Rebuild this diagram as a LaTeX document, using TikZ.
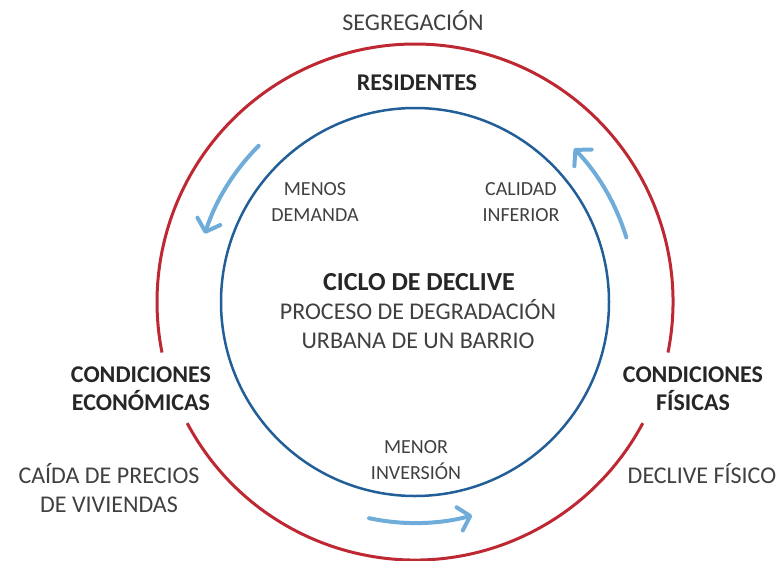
\documentclass[tikz,border=0pt]{standalone}
\usepackage{fontspec}
\setmainfont{Carlito}
\usetikzlibrary{arrows.meta}
\definecolor{ringred}{RGB}{190,40,50}
\definecolor{ringblue}{RGB}{34,94,152}
\definecolor{cycblue}{RGB}{112,172,218}
\definecolor{txtdark}{RGB}{38,38,38}
\definecolor{txtreg}{RGB}{64,64,64}
\begin{document}
\begin{tikzpicture}[x=1pt,y=1pt,
  redring/.style={draw=ringred,line width=3pt},
  bluering/.style={draw=ringblue,line width=2.5pt},
  cyc/.style={draw=cycblue,line width=4pt,line cap=round,-{Straight Barb[length=11pt,width=24pt,round]}},
  lab/.style={text=txtreg,align=center,inner sep=0pt,anchor=base,font=\fontsize{24}{28.5}\selectfont},
  blab/.style={text=txtdark,align=center,inner sep=0pt,anchor=base,font=\fontsize{24}{28}\selectfont\bfseries},
  slab/.style={text=txtreg,align=center,inner sep=0pt,anchor=base,font=\fontsize{20}{26}\selectfont}]
\useasboundingbox (0,0) rectangle (782,-560);
\coordinate (c) at (415,-302);
\node[circle,bluering,minimum size=388pt,inner sep=0pt] (inner) at (c) {};
\draw[redring] ([shift={(-11.3:258)}]c) arc[start angle=-11.3,end angle=191.3,radius=258];
\draw[redring] ([shift={(208:258)}]c) arc[start angle=208,end angle=332,radius=258];
% cycle arrows
\draw[cyc] ([shift={(135:221)}]c) arc[start angle=135,end angle=162,radius=221];
\draw[cyc] ([shift={(17:221)}]c) arc[start angle=17,end angle=44,radius=221];
\draw[cyc] ([shift={(258:221)}]c) arc[start angle=258,end angle=285,radius=221];
% labels (multi-line nodes: base = last line's baseline)
\node[lab] (seg) at (413,-30.5) {SEGREGACIÓN};
\node[blab] (res) at (417,-90) {RESIDENTES};
\node[slab] (menos) at (315,-221) {MENOS\\DEMANDA};
\node[slab] (calidad) at (521,-221) {CALIDAD\\INFERIOR};
\node[blab,font=\fontsize{26}{30}\selectfont\bfseries] (ciclo) at (419,-290) {CICLO DE DECLIVE};
\node[lab] (proceso) at (418,-348) {PROCESO DE DEGRADACIÓN\\URBANA DE UN BARRIO};
\node[slab] (menor) at (416,-479) {MENOR\\INVERSIÓN};
\node[blab] (ceco) at (141,-410) {CONDICIONES\\ECONÓMICAS};
\node[lab] (caida) at (109,-512) {CAÍDA DE PRECIOS\\DE VIVIENDAS};
\node[blab] (cfis) at (693,-410) {CONDICIONES\\FÍSICAS};
\node[lab] (declive) at (702,-483) {DECLIVE FÍSICO};
\end{tikzpicture}
\end{document}
